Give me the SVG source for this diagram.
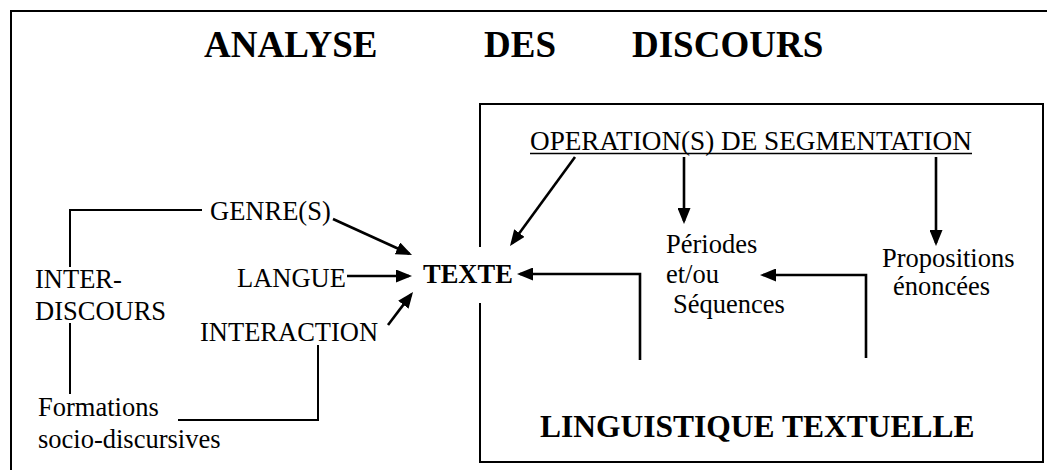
<svg xmlns="http://www.w3.org/2000/svg" width="1047" height="470" viewBox="0 0 1047 470">
  <style>
    text { font-family: "Liberation Serif", "Times New Roman", serif; fill: #000; }
    .lbl { font-size: 26.5px; }
    .head { font-size: 27.2px; }
    .bold { font-weight: bold; }
    .title { font-size: 37px; font-weight: bold; }
    .big { font-size: 31.5px; font-weight: bold; }
    .frame { fill: none; stroke: #000; stroke-width: 2; }
    .link { fill: none; stroke: #000; stroke-width: 2; }
    .arrow { fill: none; stroke: #000; stroke-width: 2.6; marker-end: url(#head); }
  </style>
  <defs>
    <marker id="head" markerUnits="userSpaceOnUse" markerWidth="16" markerHeight="13" refX="13" refY="6.5" orient="auto">
      <path d="M0,0 L16,6.5 L0,13 z" fill="#000"/>
    </marker>
  </defs>
  <rect width="1047" height="470" fill="#fff"/>

  <!-- outer frame (runs past the right and bottom edges) -->
  <rect class="frame" x="11" y="11" width="1100" height="500"/>

  <g id="title">
    <text class="title" x="204" y="57">ANALYSE</text>
    <text class="title" x="484" y="57">DES</text>
    <text class="title" x="632" y="57">DISCOURS</text>
  </g>

  <!-- inner box, open on the left where TEXTE sits -->
  <g id="linguistique-textuelle">
    <path class="frame" d="M480,247 V104 H1043 V462 H480 V303"/>
    <text class="big" x="540" y="437">LINGUISTIQUE TEXTUELLE</text>
  </g>

  <g id="genres"><text class="lbl" x="210" y="220">GENRE(S)</text></g>
  <g id="langue"><text class="lbl" x="237" y="287">LANGUE</text></g>
  <g id="interaction"><text class="lbl" x="200" y="341">INTERACTION</text></g>
  <g id="interdiscours">
    <text class="lbl" x="35" y="288">INTER-</text>
    <text class="lbl" x="35" y="320">DISCOURS</text>
  </g>
  <g id="formations">
    <text class="lbl" x="38" y="416">Formations</text>
    <text class="lbl" x="38" y="448">socio-discursives</text>
  </g>
  <g id="texte"><text class="lbl bold" x="423" y="283">TEXTE</text></g>
  <g id="segmentation">
    <text class="head" x="530" y="150">OPERATION(S) DE SEGMENTATION</text>
    <line x1="530" y1="153.5" x2="972" y2="153.5" stroke="#000" stroke-width="1.6"/>
  </g>
  <g id="periodes">
    <text class="lbl" x="666" y="253">Périodes</text>
    <text class="lbl" x="666" y="283">et/ou</text>
    <text class="lbl" x="673" y="313">Séquences</text>
  </g>
  <g id="propositions">
    <text class="lbl" x="882" y="267">Propositions</text>
    <text class="lbl" x="893" y="295">énoncées</text>
  </g>

  <g id="connectors">
    <!-- plain links -->
    <polyline class="link" points="70,267 70,210 202,210"/>
    <line class="link" x1="70" y1="323" x2="70" y2="394"/>
    <polyline class="link" points="178,420 318,420 318,345"/>
    <!-- arrows -->
    <line class="arrow" x1="333" y1="219" x2="409.3" y2="253.8"/>
    <line class="arrow" x1="347" y1="276" x2="409" y2="276"/>
    <line class="arrow" x1="388" y1="325" x2="411.2" y2="294.4"/>
    <line class="arrow" x1="575" y1="157" x2="511.8" y2="243.6"/>
    <line class="arrow" x1="684" y1="157" x2="684" y2="221"/>
    <line class="arrow" x1="936" y1="157" x2="936" y2="243"/>
    <polyline class="arrow" points="640,360 640,274 520,274"/>
    <polyline class="arrow" points="866,358 866,275 763,275"/>
  </g>
</svg>
